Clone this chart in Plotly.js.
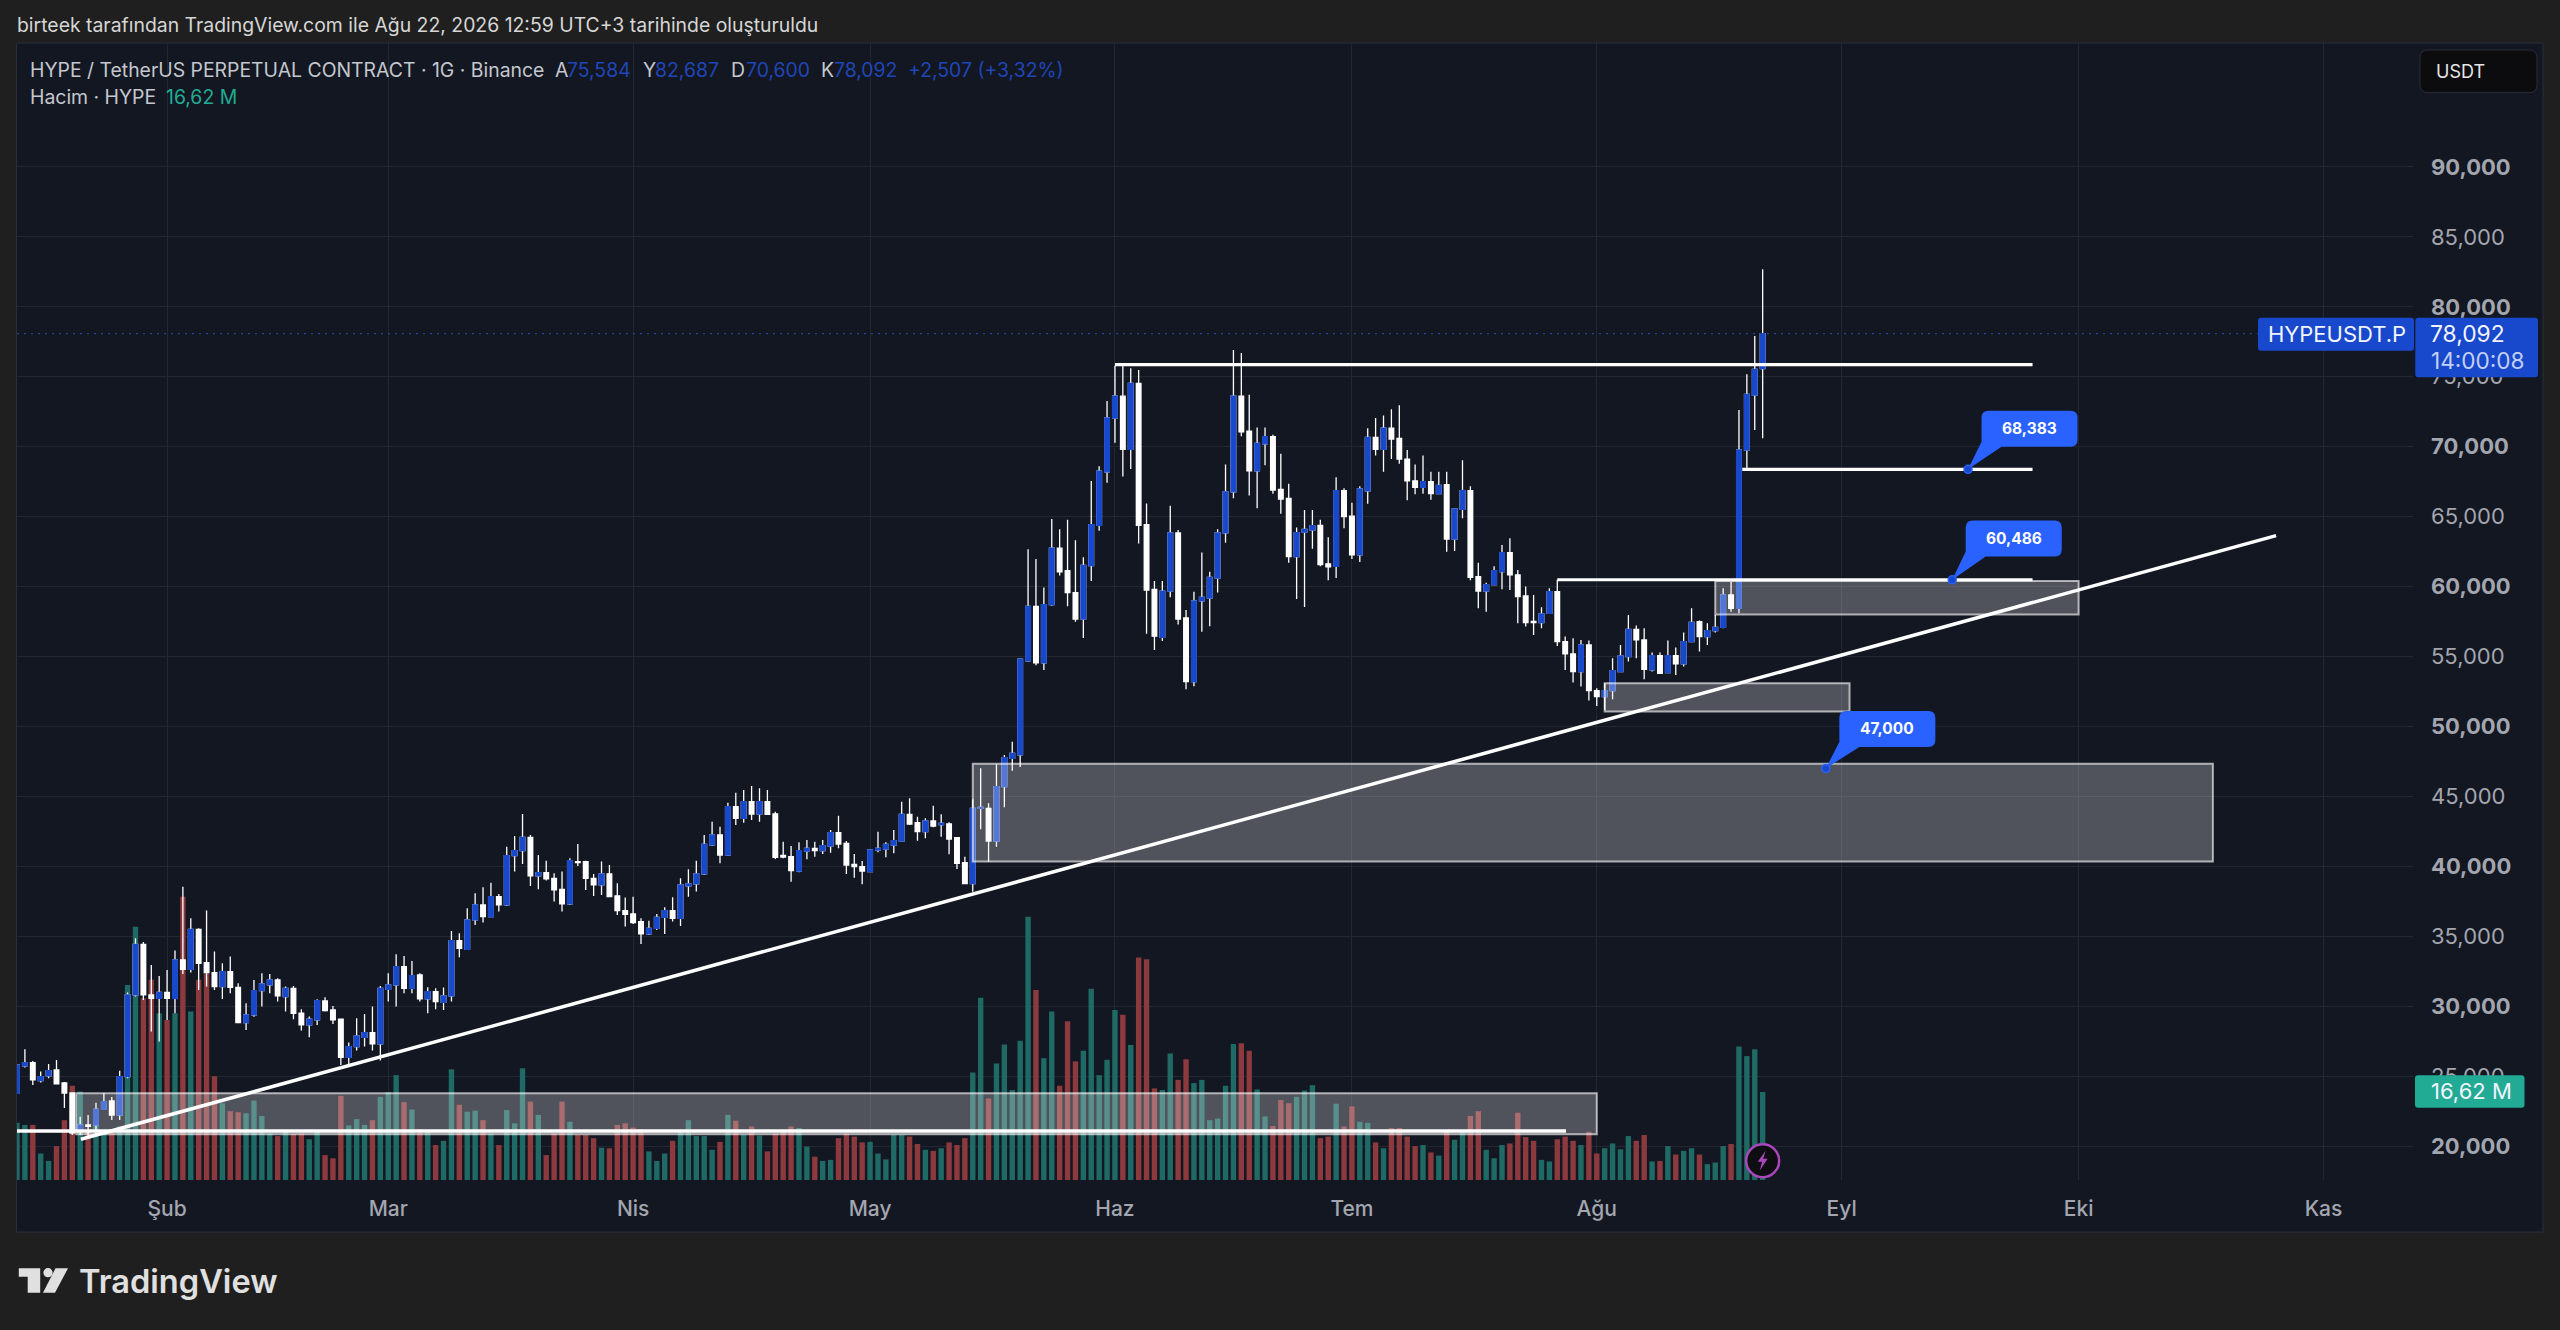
<!DOCTYPE html>
<html><head><meta charset="utf-8">
<script src="https://cdn.plot.ly/plotly-3.0.1.min.js"></script>
<style>html,body{margin:0;padding:0;background:#1f1f1f;overflow:hidden}#c{width:2560px;height:1330px}</style>
</head><body><div id="c"></div><script>
const firstDay=[2026,0,13];
const open=[23770,25725,25963,24676,25010,25439,24504,23790,21022,21500,
21500,22620,23217,22216,24962,30800,34422,30800,30562,30991,
30562,33303,32636,35495,33112,32397,31396,32468,31348,28822,
29371,31110,31515,31873,30681,31276,29490,28656,29014,30371,
29729,29062,26344,27106,27774,28107,27297,31205,31515,32826,
31276,32230,30514,31038,30276,30729,34685,34065,36162,37234,
36401,37830,37234,40761,41119,42072,39308,39546,39141,38355,
37306,40333,40333,39141,38664,39451,37878,36830,36591,36043,
35161,35566,36353,36830,36281,38593,38736,39451,41524,42238,
40808,44263,43429,44621,43739,44621,43739,40784,40689,39664,
41094,41285,41118,41451,42404,41642,40141,39974,39617,41165,
41237,41523,41809,43715,43119,42476,43238,42976,43024,42047,
40260,38759,44144,44144,41809,45693,47719,47976,54684,58584,
54554,58714,62744,61132,59572,57674,61496,64382,68204,72052,
73612,69816,74522,64434,59806,56374,59676,63836,57752,53202,
58974,59182,60612,63836,66774,73612,71116,68282,70206,70726,
66956,66306,62146,63888,64044,64382,61626,61444,66852,65032,
62276,66852,70674,69816,71324,70596,69114,67554,67086,67502,
66644,67294,63394,65526,66852,60716,59676,60144,61068,62426,
60830,59329,57517,57422,58089,59638,56064,55182,53919,55825,
52561,52132,52561,53919,54991,56945,56183,54038,55063,53848,
55063,54467,56064,57493,56421,56849,57088,59400,58447,69766,
73698,75584];
const high=[25800,26916,26082,25320,25868,26153,24576,23790,22100,22216,
23096,23790,23503,25384,30967,34851,34589,32945,32158,32587,
33970,38545,36282,35567,36830,33898,33064,33541,31634,30204,
31873,32349,32301,31992,31396,31443,29777,29253,30490,30634,
30013,29062,27393,29132,29442,29967,31443,32349,33708,33589,
33231,32349,31348,31276,31324,35376,35209,36997,38068,38497,
38830,38020,41405,42167,43740,42239,40809,40404,39499,39618,
40571,41595,40404,39451,40333,40094,38783,37759,37830,36281,
36114,36591,37068,37783,39141,39785,40404,42239,43192,42833,
44549,45264,45455,45741,45574,45455,43906,41761,41451,41713,
41880,41761,41880,42595,43620,41809,40880,40379,41213,42476,
41713,42595,44621,44859,43549,43429,44335,43715,43143,42047,
40689,44788,47004,44502,47290,47957,48910,54850,62666,61964,
59936,64824,64096,64772,63316,62094,67554,68594,73274,75796,
75796,75614,75484,65942,60404,60404,65786,64044,58324,59624,
62432,61054,64096,68724,76914,76706,73716,71376,71376,70856,
69504,67346,64226,65474,65474,64772,63524,67814,67034,65994,
67164,71324,72052,72234,72676,72962,69764,68724,69374,68204,
68204,68204,65604,69036,67164,61704,60274,61444,62975,63451,
61187,59996,59400,58518,59877,60486,56421,56302,56183,56135,
52728,53085,54872,55825,57970,57208,57017,55277,55277,56135,
55635,56707,58447,57565,57374,57970,59877,60353,72625,75175,
77916,82687];
const low=[23770,25605,24366,24533,24843,24438,22717,20786,20786,20700,
20786,22574,21859,21859,24843,30681,30443,28179,27465,29012,
29490,32302,32397,31158,31396,31158,30514,30919,28775,28298,
29250,29967,30919,30323,29610,29062,28250,27774,28656,29610,
28728,25796,25868,26821,27106,26821,26106,30323,29967,30919,
30919,30323,29490,29777,29729,30323,33493,34017,35805,35972,
36353,36758,37162,39618,40166,38593,38355,38975,37473,36758,
37234,40023,38307,37878,37950,37782,36520,35686,35877,34447,
35090,35447,35161,36043,35734,37830,38188,39380,41453,40212,
40737,42953,43119,43310,43191,43668,40522,40570,38901,39569,
40498,40689,40880,40975,41284,39450,39188,38711,39569,40999,
40641,40927,41761,42953,41833,41999,42786,42119,40856,39807,
38711,38187,42643,40331,41404,44216,46837,47092,54632,54372,
54034,58636,60794,58584,57492,56322,60404,63992,67424,70284,
67866,68412,63082,56634,55464,56114,59234,57284,52656,52864,
56764,57154,59572,63134,66306,70752,66514,65604,68672,66644,
65214,61704,59104,58532,62700,61444,60456,60612,64174,61964,
61756,65916,69374,68204,69114,68776,66176,66592,66644,66202,
66592,62484,62536,64876,60456,58454,58194,60092,59805,59757,
57374,57136,56540,57017,58041,55754,54038,53132,52847,51846,
51464,51178,51941,53895,54634,54872,53371,53919,53752,53800,
53681,54277,56016,55349,55825,56707,57017,58208,58089,68384,
71196,70600];
const close=[25796,25963,24724,24963,25391,24438,23790,20930,21500,21400,
22620,23168,22216,24955,30800,34422,30800,30562,30991,30562,
33303,32636,35495,33064,32397,31396,32468,31348,28822,29371,
31110,31587,31873,30729,31276,29490,28656,29062,30395,29681,
29014,26344,27106,27869,28107,27297,31276,31515,32826,31276,
32182,30514,31038,30323,30729,34685,34137,36162,37234,36401,
37830,37234,40761,41119,42072,39308,39546,39093,38307,37306,
40404,40261,39141,38664,39451,37830,36830,36567,35972,35161,
35566,36353,36830,36281,38664,38736,39451,41572,42238,40808,
44263,43429,44621,43739,44621,43715,40641,40665,39688,41118,
41285,41118,41475,42404,41594,40093,39974,39664,41165,41285,
41571,41833,43715,43024,42476,43238,42881,43072,41952,40212,
38759,44144,44216,41809,45693,47766,48076,54814,58584,54554,
58714,62744,61054,59572,57674,61522,64434,68256,72052,73612,
69816,74522,64382,59754,56452,59676,63836,57674,53202,58974,
59234,60664,63836,66774,73612,71064,68282,70232,70726,66904,
66254,62146,63862,64096,64356,61574,61418,66852,65006,62276,
66982,70674,69816,71324,70544,69114,67554,67086,67502,66644,
67242,63394,65552,66852,60664,59676,60144,61132,62426,60830,
59281,57422,57422,58041,59638,56064,55182,53919,55825,52561,
52132,52561,53991,55039,56945,56183,54086,55063,53800,55063,
54467,56064,57445,56421,56849,57088,59400,58447,69766,73745,
75533,78092];
const volume=[10.8,10.4,10.4,5.0,3.6,6.4,11.3,17.8,16.7,9.1,
10.7,8.8,8.9,10.1,36.8,47.8,34.3,37.8,31.5,30.2,
31.5,53.5,31.8,37.8,39.0,19.6,14.5,13.0,12.8,12.6,
15.0,12.1,8.8,8.3,9.1,8.7,8.8,7.7,9.3,4.7,
4.1,15.9,10.3,11.5,10.4,11.3,15.7,16.6,19.8,14.7,
13.3,9.6,9.4,6.6,7.4,20.9,14.2,12.9,13.1,11.3,
8.8,6.6,13.2,10.7,21.1,14.8,12.3,4.7,8.8,14.8,
11.0,8.5,8.5,7.9,6.1,6.0,10.4,10.7,9.9,9.6,
5.4,3.6,5.0,7.4,9.3,11.3,8.3,8.3,5.7,7.2,
12.3,11.2,8.5,10.1,8.4,5.4,8.8,9.4,10.1,9.8,
6.3,4.4,3.6,3.8,7.9,8.8,8.2,7.1,7.2,5.0,
3.9,8.5,8.5,8.2,6.8,5.7,5.5,6.0,7.1,6.6,
7.9,20.3,34.4,15.4,22.0,25.6,17.0,26.3,49.7,35.9,
23.0,31.8,17.8,30.0,22.4,24.4,36.1,19.8,22.7,32.1,
31.2,25.5,42.0,41.7,17.3,17.0,23.9,18.9,22.8,18.3,
18.9,11.3,11.6,17.8,25.7,25.8,24.4,17.1,12.0,10.2,
15.1,14.5,15.7,16.9,17.9,7.9,8.2,14.4,10.1,13.9,
11.0,10.8,7.1,6.0,9.8,9.8,8.2,6.4,6.6,5.2,
4.6,9.4,7.6,9.1,12.1,13.0,5.7,4.1,6.6,6.9,
12.7,8.1,7.4,3.8,3.5,7.7,8.2,7.4,6.6,9.1,
5.0,6.0,6.9,5.8,8.3,7.4,8.5,3.5,3.6,6.4,
4.8,5.5,6.0,4.8,3.0,3.3,6.4,6.8,25.2,23.4,
24.7,16.62];
const monthTicks=["2026-02-01","2026-03-01","2026-04-01","2026-05-01","2026-06-01","2026-07-01","2026-08-01","2026-09-01","2026-10-01","2026-11-01"];
const monthLabels=["Şub","Mar","Nis","May","Haz","Tem","Ağu","Eyl","Eki","Kas"];
const priceTicks=[20000,25000,30000,35000,40000,45000,50000,55000,60000,65000,70000,75000,80000,85000,90000];
const levelPrices=[68383,60486,47000];
const levelDates=["2026-09-17","2026-09-15","2026-08-30"];
const calloutGap=[22.6,23.3,21.5];
const lastPrice=78092;
const C={paper:'#1f1f1f',pane:'#131722',grid:'#232731',up:'#1848cc',white:'#ffffff',teal:'#1f6a65',red:'#8c3a3e',axis:'#a3a6af',callout:'#2962ff'};
const F='Inter, Roboto, sans-serif';
const L=17,R=2413,T=43,B=1180;
const xp=p=>(p-L)/(R-L), yp=p=>(B-p)/(B-T);
const dates=open.map((_,i)=>new Date(Date.UTC(firstDay[0],firstDay[1],firstDay[2]+i)).toISOString().slice(0,10));
const upIdx=open.map((o,i)=>close[i]>=o?i:-1).filter(i=>i>=0);
const pick=(a,idx)=>idx.map(i=>a[i]);

const traces=[
 {type:'bar',name:'Hacim',x:dates,y:volume,yaxis:'y',marker:{color:volume.map((_,i)=>close[i]>=open[i]?C.teal:C.red),line:{width:0}},hoverinfo:'skip'},
 {type:'candlestick',name:'HYPE',x:dates,open,high,low,close,yaxis:'y2',whiskerwidth:0,
  increasing:{line:{color:C.white,width:1.3},fillcolor:C.white},decreasing:{line:{color:C.white,width:1.3},fillcolor:C.white},hoverinfo:'skip'},
 {type:'candlestick',name:'HYPE up',x:pick(dates,upIdx),open:pick(open,upIdx),close:pick(close,upIdx),high:pick(close,upIdx),low:pick(open,upIdx),yaxis:'y2',whiskerwidth:0,
  increasing:{line:{color:C.up,width:1.3},fillcolor:C.up},decreasing:{line:{color:C.up,width:1.3},fillcolor:C.up},hoverinfo:'skip'},
];

const rectS=(x0,x1,y0,y1)=>({type:'rect',xref:'x',yref:'y2',x0,x1,y0,y1,fillcolor:'rgba(255,255,255,0.26)',line:{color:'rgba(255,255,255,0.62)',width:2}});
const lineS=(x0,x1,y0,y1,w)=>({type:'line',xref:'x',yref:'y2',x0,x1,y0,y1,line:{color:'#fff',width:w||3}});
const paperRect=(x0,x1,y0,y1,col,rad)=>{const r=rad||0;const X0=xp(x0),X1=xp(x1),Y0=yp(y0),Y1=yp(y1);
  const rx=r/(R-L),ry=r/(B-T);
  return {type:'path',xref:'paper',yref:'paper',fillcolor:col,line:{width:0},
   path:`M${X0+rx},${Y0} L${X1-rx},${Y0} Q${X1},${Y0} ${X1},${Y0-ry} L${X1},${Y1+ry} Q${X1},${Y1} ${X1-rx},${Y1} L${X0+rx},${Y1} Q${X0},${Y1} ${X0},${Y1+ry} L${X0},${Y0-ry} Q${X0},${Y0} ${X0+rx},${Y0} Z`};};
const callout=(dx,dy,date,price)=>{ // pixel offsets relative to the anchored level point
  const w=96,h=36,r=7,x=dx,y=dy;
  return {type:'path',xref:'x',yref:'y2',xsizemode:'pixel',ysizemode:'pixel',xanchor:date,yanchor:price,fillcolor:C.callout,line:{width:0},
   path:`M${x+r},${y} L${x+w-r},${y} Q${x+w},${y} ${x+w},${y+r} L${x+w},${y+h-r} Q${x+w},${y+h} ${x+w-r},${y+h} L${x+r},${y+h} Q${x},${y+h} ${x},${y+h-r} L${x},${y+5} L0,0 L${x+20},${y} Z`};};
const dot=(date,price)=>({type:'circle',xref:'x',yref:'y2',xsizemode:'pixel',ysizemode:'pixel',xanchor:date,yanchor:price,x0:-4,x1:4,y0:-4,y1:4,fillcolor:C.up,line:{color:C.callout,width:1.5}});

const shapes=[
 Object.assign(paperRect(16.5,2543,43,1232,C.pane,0),{layer:'below',line:{color:'#2a2e39',width:1}}),
 {type:'line',xref:'paper',yref:'y2',x0:0,x1:xp(2258),y0:lastPrice,y1:lastPrice,line:{color:'#2a4190',width:1.3,dash:'2px,5px'}},
 rectS("2026-01-20 12:00","2026-08-01",20836,23768),
 rectS("2026-05-14","2026-10-18",40337,47327),
 rectS("2026-08-16","2026-10-01",57994,60401),
 rectS("2026-08-02","2026-09-02",51059,53085),
 lineS("2026-01-21 02:00","2026-10-26",20479,63644,3.5),
 lineS("2026-06-01","2026-09-25 04:00",75866,75866,3.2),
 lineS("2026-08-19 10:00","2026-09-25 04:00",68383,68383,3.2),
 lineS("2026-07-27","2026-09-25 04:00",60486,60486,3.2),
 {type:'line',xref:'paper',yref:'y2',x0:0,x1:(1566-L)/(R-L),y0:21072,y1:21072,line:{color:'#fff',width:3.5}},
 ...levelDates.map((d,i)=>callout(13.5,calloutGap[i],d,levelPrices[i])),
 ...levelDates.map((d,i)=>dot(d,levelPrices[i])),
 // purple flash badge
 {type:'circle',xref:'x',yref:'y2',xsizemode:'pixel',ysizemode:'pixel',xanchor:"2026-08-22",yanchor:18950,x0:-16.5,x1:16.5,y0:-16.5,y1:16.5,fillcolor:'#0e0e12',line:{color:'#ab47bc',width:2.5}},
 {type:'path',xref:'x',yref:'y2',xsizemode:'pixel',ysizemode:'pixel',xanchor:"2026-08-22",yanchor:18950,fillcolor:'#ab47bc',line:{width:0},path:'M3,10 L-5,-1 L-0.5,-1 L-3,-10 L5,2 L0.5,2 Z'},
 // axis price chips
 paperRect(2258,2414,317.7,350.7,C.up,3),
 paperRect(2415.3,2538,317.7,377.3,C.up,3),
 paperRect(2415,2524.5,1075.3,1107.7,'#22ab94',3),
 Object.assign(paperRect(2420,2537,50,92.7,'#0c0c0e',8),{line:{color:'#2a2e39',width:1}}),
 // TradingView mark
 {type:'path',xref:'paper',yref:'paper',fillcolor:'#e0e0e0',line:{width:0},
  path:`M${xp(18.8)},${yp(1268.3)} L${xp(40.2)},${yp(1268.3)} L${xp(40.2)},${yp(1292.7)} L${xp(27.7)},${yp(1292.7)} L${xp(27.7)},${yp(1276.7)} L${xp(18.8)},${yp(1276.7)} Z`},
 {type:'circle',xref:'paper',yref:'paper',x0:xp(43.4),x1:xp(52.6),y0:yp(1277.3),y1:yp(1268.1),fillcolor:'#e0e0e0',line:{width:0}},
 {type:'path',xref:'paper',yref:'paper',fillcolor:'#e0e0e0',line:{width:0},
  path:`M${xp(55.5)},${yp(1268.3)} L${xp(68)},${yp(1268.3)} L${xp(55)},${yp(1292.7)} L${xp(43)},${yp(1292.7)} Z`},
];

const txt=(px,py,text,o={})=>Object.assign({xref:'paper',yref:'paper',x:xp(px),y:yp(py),text,showarrow:false,xanchor:'left',yanchor:'middle',
  font:{family:F,size:o.size||18,color:o.color||'#c4c7ce',weight:o.weight||400},borderpad:0},o.extra||{});
const blue='#1f46b8',S=19.4;
const annotations=[
 txt(16,25,'birteek tarafından TradingView.com ile Ağu 22, 2026 12:59 UTC+3 tarihinde oluşturuldu',{size:S,color:'#d6d6d6'}),
 txt(29,70,'HYPE / TetherUS PERPETUAL CONTRACT · 1G · Binance',{size:S}),
 txt(554,70,'A',{size:S}),txt(566,70,'75,584',{size:S,color:blue}),
 txt(642,70,'Y',{size:S}),txt(654,70,'82,687',{size:S,color:blue}),
 txt(730,70,'D',{size:S}),txt(745,70,'70,600',{size:S,color:blue}),
 txt(820,70,'K',{size:S}),txt(833,70,'78,092',{size:S,color:blue}),
 txt(907,70,'+2,507 (+3,32%)',{size:S,color:blue}),
 txt(29,97,'Hacim · HYPE',{size:S}),txt(165,97,'16,62 M',{size:S,color:'#22ab94'}),
 txt(2435,71,'USDT',{size:18,color:'#e6e6e6'}),
 txt(2267,334,'HYPEUSDT.P',{size:22,color:'#f2f4ff'}),
 txt(2429,333,'78,092',{size:22.8,color:'#f2f4ff'}),
 txt(2430,360,'14:00:08',{size:22.6,color:'#c3d0f5'}),
 txt(2430,1091,'16,62 M',{size:22,color:'#f2f4ff'}),
 txt(78,1281,'TradingView',{size:32.6,color:'#e0e0e0',weight:600}),
 ...levelPrices.map((p,i)=>({xref:'x',yref:'y2',x:levelDates[i],y:p,text:p.toLocaleString('en-US'),showarrow:false,xanchor:'center',yanchor:'middle',
   xshift:61.5,yshift:calloutGap[i]+18,font:{family:F,size:15.5,color:'#fff',weight:700}})),
];

const layout={
 width:2560,height:1330,paper_bgcolor:C.paper,plot_bgcolor:C.pane,showlegend:false,
 margin:{l:L,r:2560-R,t:T,b:1330-B,pad:0},
 boxmode:'overlay',boxgap:0.16,bargap:0.32,hovermode:false,dragmode:false,
 xaxis:{type:'date',range:["2026-01-13","2026-11-12 08:00"],tickmode:'array',tickvals:monthTicks,ticktext:monthLabels,
   showgrid:true,gridcolor:C.grid,gridwidth:1,zeroline:false,showline:false,ticks:'',ticklabelstandoff:14,
   tickfont:{family:F,size:21,color:C.axis,weight:500},rangeslider:{visible:false},fixedrange:true},
 yaxis:{range:[0,214.7],visible:false,showgrid:false,zeroline:false,fixedrange:true},
 yaxis2:{overlaying:'y',side:'right',anchor:'x',range:[17569,98865],tickmode:'array',tickvals:priceTicks,
   ticktext:priceTicks.map(v=>{const s=v.toLocaleString('en-US');return v%10000===0?'<b>'+s+'</b>':s;}),
   showgrid:true,gridcolor:C.grid,gridwidth:1,zeroline:false,showline:false,ticks:'',ticklabelstandoff:17,
   tickfont:{family:F,size:22,color:C.axis},fixedrange:true},
 shapes,annotations
};
Plotly.newPlot('c',traces,layout,{displayModeBar:false,staticPlot:true});
</script></body></html>
